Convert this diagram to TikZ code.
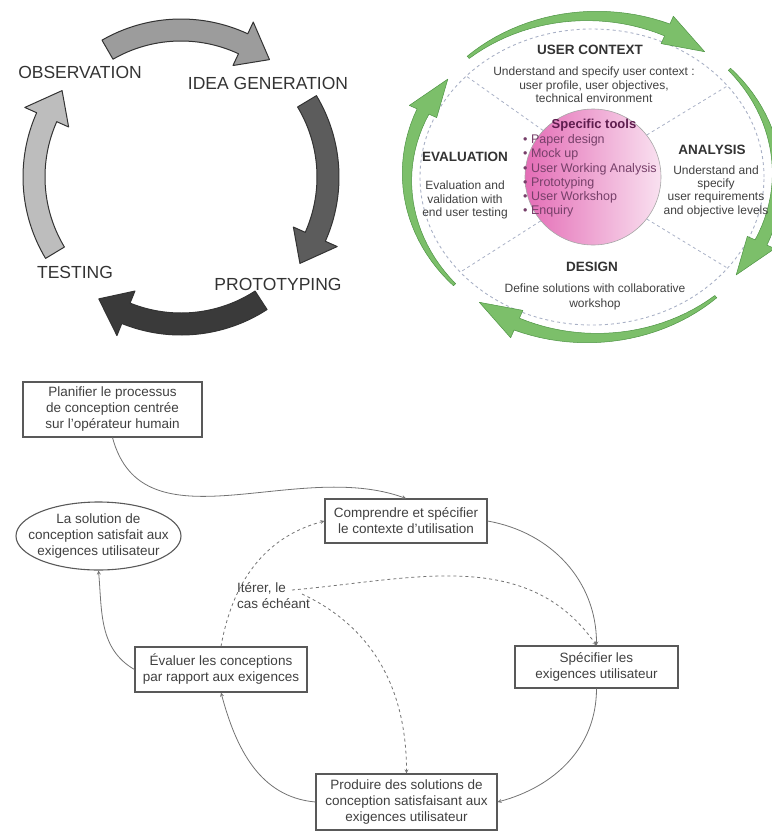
\documentclass[tikz,border=0pt]{standalone}
\usepackage{fontspec}
\setmainfont{Liberation Sans}
\usetikzlibrary{positioning, shapes.geometric}

\definecolor{ringA}{HTML}{9C9C9C}
\definecolor{ringB}{HTML}{5C5C5C}
\definecolor{ringC}{HTML}{3A3A3A}
\definecolor{ringD}{HTML}{BDBDBD}
\definecolor{leafgreen}{HTML}{7CBF6A}
\definecolor{leafdark}{HTML}{4E9444}
\definecolor{toolpink}{HTML}{E46DB6}
\definecolor{toolpale}{HTML}{F9E1F0}
\definecolor{toolplum}{HTML}{5E1D4E}
\definecolor{dashblue}{HTML}{A9B1C6}

\begin{document}
\begin{tikzpicture}[x=1pt, y=1pt, >=stealth,
    steplabel/.style={font=\fontsize{17.5}{20}\selectfont, text=black!80},
    phasetitle/.style={font=\fontsize{13.5}{16}\selectfont\bfseries, text=black!80},
    phasetext/.style={font=\fontsize{12}{13.3}\selectfont, text=black!75, align=center},
    flowtext/.style={font=\fontsize{13.5}{16}\selectfont, text=black!75, align=center},
    flowbox/.style={flowtext, draw=black!65, line width=1.1pt, inner sep=0pt},
    flowline/.style={->, draw=black!55, line width=0.8pt},
    iterline/.style={flowline, dashed}]

    \useasboundingbox (0,0) rectangle (772,-831);

    % ---------------------------------------------------------------
    % 1. cycle of four grey arrows (top left)
    % ---------------------------------------------------------------
    \begin{scope}[shift={(181,-177)}]
        \foreach \a/\col in {120/ringA, 31/ringB, -57/ringC, 211/ringD}
            \filldraw[fill=\col, draw=black!80, line width=1pt, line join=round]
                (\a:158pt) arc[start angle=\a, end angle=\a-55, radius=158pt]
                -- ({\a-55}:171pt) -- ({\a-67}:147pt) -- ({\a-55}:123pt) -- ({\a-55}:136pt)
                arc[start angle=\a-55, end angle=\a, radius=136pt] -- cycle;
    \end{scope}

    \node[steplabel] (obs) at (80,-72) {OBSERVATION};
    \node[steplabel] (idea) at (268,-83) {IDEA GENERATION};
    \node[steplabel] (test) at (75,-272) {TESTING};
    \node[steplabel] (proto) at (278,-284) {PROTOTYPING};

    % ---------------------------------------------------------------
    % 2. user centred ring (top right)
    % ---------------------------------------------------------------
    \node[circle, minimum size=136pt, inner sep=0pt, draw=black!35, line width=0.6pt,
          left color=toolpink, right color=toolpale] (tools) at (593,-177) {};

    \begin{scope}[shift={(592,-177)}]
        \draw[dashblue, dashed, line width=0.9pt] (0,0) ellipse[x radius=172pt, y radius=148pt];
        \foreach \ang in {137,38,220,322}
            \draw[dashblue, dashed, line width=0.8pt] (tools.\ang) -- ({172*cos(\ang)},{148*sin(\ang)});
        \foreach \a [evaluate=\a as \b using \a-66, evaluate=\a as \c using \a-80] in {132,42,-48,-138}
            \filldraw[fill=leafgreen, draw=leafdark, line width=0.5pt, line join=round]
                plot[domain=\a:\b, variable=\t, samples=25]
                    ({(185+1.5+5*(\a-\t)/66)*cos(\t)}, {(161+1.5+5*(\a-\t)/66)*sin(\t)})
                -- ({200*cos(\b)}, {176*sin(\b)}) -- ({183*cos(\c)}, {159*sin(\c)})
                -- ({170*cos(\b)}, {146*sin(\b)})
                -- plot[domain=\b:\a, variable=\t, samples=25]
                    ({(185-1.5-5*(\a-\t)/66)*cos(\t)}, {(161-1.5-5*(\a-\t)/66)*sin(\t)})
                -- cycle;
    \end{scope}

    \node[font=\fontsize{13}{15}\selectfont\bfseries, text=toolplum] (toolstitle) at (594,-125) {Specific tools};
    \node[anchor=west, align=left, inner sep=0pt, font=\fontsize{12.5}{14.2}\selectfont, text=toolplum!85]
        (toollist) at (523,-176) {\textbullet\ Paper design\\ \textbullet\ Mock up\\ \textbullet\ User Working Analysis\\
        \textbullet\ Prototyping\\ \textbullet\ User Workshop\\ \textbullet\ Enquiry};

    \node[phasetitle] (uctitle) at (590,-50) {USER CONTEXT};
    \node[phasetext] (uctext) at (594,-85) {Understand and specify user context :\\user profile, user objectives,\\technical environment};
    \node[phasetitle] (evtitle) at (465,-157) {EVALUATION};
    \node[phasetext] (evtext) at (465,-200) {Evaluation and\\validation with\\end user testing};
    \node[phasetitle] (antitle) at (712,-150) {ANALYSIS};
    \node[phasetext] (antext) at (716,-191) {Understand and\\specify\\user requirements\\and objective levels};
    \node[phasetitle] (detitle) at (592,-267) {DESIGN};
    \node[phasetext, font=\fontsize{12}{15}\selectfont] (detext) at (595,-297) {Define solutions with collaborative\\workshop};

    % ---------------------------------------------------------------
    % 3. french process chart (bottom)
    % ---------------------------------------------------------------
    \node[flowbox, minimum width=179pt, minimum height=55pt] (plan) at (112.5,-409.5)
        {Planifier le processus\\de conception centrée\\sur l'opérateur humain};
    \node[ellipse, draw=black!65, line width=1.1pt, minimum width=165pt, minimum height=68pt, inner sep=0pt,
          label={[flowtext]center:La solution de\\conception satisfait aux\\exigences utilisateur}] (sol) at (98.5,-536) {};
    \node[flowbox, minimum width=162pt, minimum height=44pt] (comp) at (406,-521)
        {Comprendre et spécifier\\le contexte d'utilisation};
    \node[flowbox, minimum width=172pt, minimum height=45pt] (eval) at (221,-669.5)
        {Évaluer les conceptions\\par rapport aux exigences};
    \node[flowbox, minimum width=163pt, minimum height=42pt] (spec) at (596.5,-667)
        {Spécifier les\\exigences utilisateur};
    \node[flowbox, minimum width=181pt, minimum height=56pt] (prod) at (406.5,-802)
        {Produire des solutions de\\conception satisfaisant aux\\exigences utilisateur};
    \node[flowtext, align=left, anchor=west, inner sep=0pt] (iter) at (237,-596) {Itérer, le\\cas échéant};
    \coordinate (iterA) at (292,-590);
    \coordinate (iterB) at (302,-594);

    \draw[flowline] (plan.south) to[out=-75, in=160] (comp.north);
    \draw[flowline] (comp.east) to[out=-10, in=90] (spec.north);
    \draw[flowline] (spec.south) to[out=-90, in=15] (prod.east);
    \draw[flowline] (prod.west) to[out=175, in=-75] (eval.south);
    \draw[flowline] (eval.west) to[out=150, in=-85] (sol.south);
    \draw[iterline] (eval.north) to[out=80, in=195] (comp.west);
    \draw[iterline] (iterA) to[out=5, in=125] (spec.north);
    \draw[iterline] (iterB) to[out=-25, in=90] (prod.north);

\end{tikzpicture}
\end{document}
